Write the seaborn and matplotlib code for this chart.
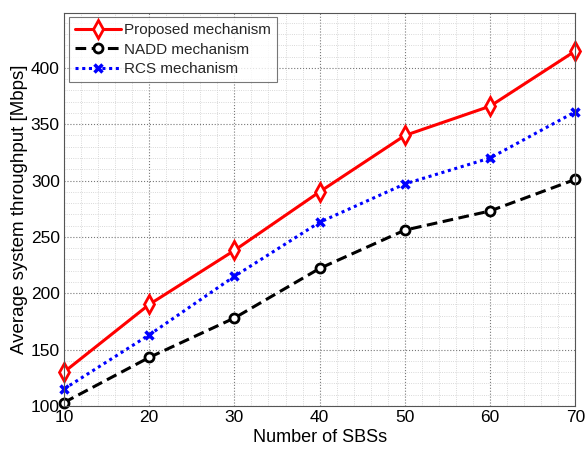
import matplotlib
matplotlib.use("Agg")
import matplotlib.pyplot as plt
import seaborn as sns
import pandas as pd
from matplotlib.ticker import MultipleLocator

sbs = [10, 20, 30, 40, 50, 60, 70]
proposed = [130, 190, 238, 290, 340, 366, 415]
nadd = [103, 143, 178, 222, 256, 273, 301]
rcs = [115, 163, 215, 263, 297, 320, 361]
labels = ["Proposed mechanism", "NADD mechanism", "RCS mechanism"]

sns.set_theme(style="white")
plt.rcParams["font.family"] = ["Liberation Sans", "DejaVu Sans"]

fig = plt.figure(figsize=(5.87, 4.53), dpi=100)
ax = fig.add_axes([0.109, 0.104, 0.871, 0.868])

styles = [
    dict(color="red", linestyle="-", marker="d", markersize=9, mfc="white", mec="red", mew=2),
    dict(color="black", linestyle=(0, (3.5, 1.8)), marker="o", markersize=6.5, mfc="white", mec="black", mew=2),
    dict(color="blue", linestyle=(0, (1, 1.2)), marker="x", markersize=5.5, mec="blue", mew=2.5),
]
for ys, lab, st in zip([proposed, nadd, rcs], labels, styles):
    df = pd.DataFrame({"x": sbs, "y": ys})
    sns.lineplot(data=df, x="x", y="y", ax=ax, label=lab, linewidth=2.2, clip_on=False, **st)

ax.set_xlim(10, 70)
ax.set_ylim(100, 449)
ax.set_xticks(sbs)
ax.set_yticks([100, 150, 200, 250, 300, 350, 400])
ax.xaxis.set_minor_locator(MultipleLocator(2))
ax.yaxis.set_minor_locator(MultipleLocator(10))
ax.grid(True, which="major", linestyle=":", color="#777777", linewidth=0.8)
ax.grid(True, which="minor", linestyle=":", color="#cccccc", linewidth=0.6)
ax.set_axisbelow(True)
for s in ax.spines.values():
    s.set_color("#555555")
    s.set_linewidth(0.8)
ax.tick_params(axis="both", which="major", direction="in", length=4, colors="#555555",
               labelcolor="black", labelsize=12.5, pad=3)
ax.tick_params(axis="both", which="minor", length=0)
ax.set_xlabel("Number of SBSs", fontsize=13, color="black", labelpad=3)
ax.set_ylabel("Average system throughput [Mbps]", fontsize=13.5, color="black", labelpad=2)

leg = ax.legend(loc="upper left", fontsize=11, frameon=True, fancybox=False,
                borderaxespad=0.3, handlelength=3.0, borderpad=0.4, labelspacing=0.35,
                handletextpad=0.2)
leg.get_frame().set_edgecolor("#555555")
leg.get_frame().set_linewidth(0.8)

fig.savefig("out.png", dpi=100)
